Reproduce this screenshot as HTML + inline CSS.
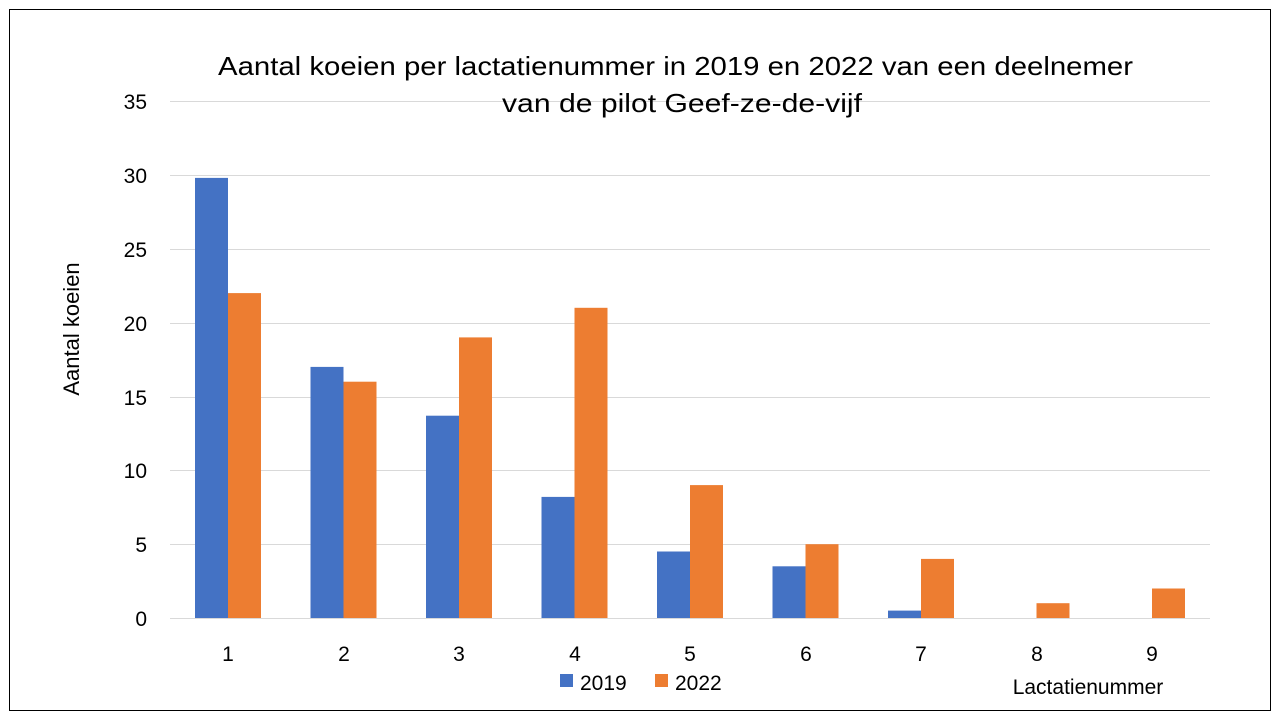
<!DOCTYPE html>
<html><head><meta charset="utf-8"><style>
html,body{margin:0;padding:0;background:#fff;}
svg{display:block;font-family:"Liberation Sans",sans-serif;}
</style></head><body>
<svg width="1280" height="720" viewBox="0 0 1280 720">
<rect x="9.5" y="9.5" width="1261" height="701" fill="#fff" stroke="#000" stroke-width="1"/>
<g stroke="#d9d9d9" stroke-width="1">
<line x1="170" x2="1210" y1="101.5" y2="101.5"/>
<line x1="170" x2="1210" y1="175.5" y2="175.5"/>
<line x1="170" x2="1210" y1="249.5" y2="249.5"/>
<line x1="170" x2="1210" y1="323.5" y2="323.5"/>
<line x1="170" x2="1210" y1="397.5" y2="397.5"/>
<line x1="170" x2="1210" y1="470.5" y2="470.5"/>
<line x1="170" x2="1210" y1="544.5" y2="544.5"/>
<line x1="170" x2="1210" y1="618.5" y2="618.5"/>
</g>
<g font-size="21" fill="#000" text-anchor="end">
<text x="147" y="109">35</text><text x="147" y="183">30</text><text x="147" y="257">25</text>
<text x="147" y="331">20</text><text x="147" y="405">15</text><text x="147" y="478">10</text>
<text x="147" y="552">5</text><text x="147" y="626">0</text>
</g>
<g fill="#4472c4">
<rect x="195" y="177.9" width="33" height="440.1"/>
<rect x="310.5" y="366.9" width="33" height="251.1"/>
<rect x="426" y="415.7" width="33" height="202.3"/>
<rect x="541.5" y="496.9" width="33" height="121.1"/>
<rect x="657" y="551.5" width="33" height="66.5"/>
<rect x="772.5" y="566.3" width="33" height="51.7"/>
<rect x="888" y="610.6" width="33" height="7.4"/>
</g>
<g fill="#ed7d31">
<rect x="228" y="293.1" width="33" height="324.9"/>
<rect x="343.5" y="381.7" width="33" height="236.3"/>
<rect x="459" y="337.4" width="33" height="280.6"/>
<rect x="574.5" y="307.8" width="33" height="310.2"/>
<rect x="690" y="485.1" width="33" height="132.9"/>
<rect x="805.5" y="544.2" width="33" height="73.8"/>
<rect x="921" y="558.9" width="33" height="59.1"/>
<rect x="1036.5" y="603.2" width="33" height="14.8"/>
<rect x="1152" y="588.5" width="33" height="29.5"/>
</g>
<g font-size="21" fill="#000" text-anchor="middle">
<text x="228" y="661">1</text><text x="344" y="661">2</text><text x="459" y="661">3</text>
<text x="575" y="661">4</text><text x="690" y="661">5</text><text x="806" y="661">6</text>
<text x="921" y="661">7</text><text x="1037" y="661">8</text><text x="1152" y="661">9</text>
</g>
<text x="218" y="75" font-size="26" textLength="915" lengthAdjust="spacingAndGlyphs">Aantal koeien per lactatienummer in 2019 en 2022 van een deelnemer</text>
<text x="502" y="112" font-size="26" textLength="360" lengthAdjust="spacingAndGlyphs">van de pilot Geef-ze-de-vijf</text>
<text transform="translate(79,329) rotate(-90)" font-size="22" text-anchor="middle">Aantal koeien</text>
<text x="1088" y="694" font-size="21" text-anchor="middle">Lactatienummer</text>
<rect x="560" y="674" width="13" height="13" fill="#4472c4"/>
<text x="580" y="690" font-size="21">2019</text>
<rect x="655" y="674" width="13" height="13" fill="#ed7d31"/>
<text x="675" y="690" font-size="21">2022</text>
</svg>
</body></html>
